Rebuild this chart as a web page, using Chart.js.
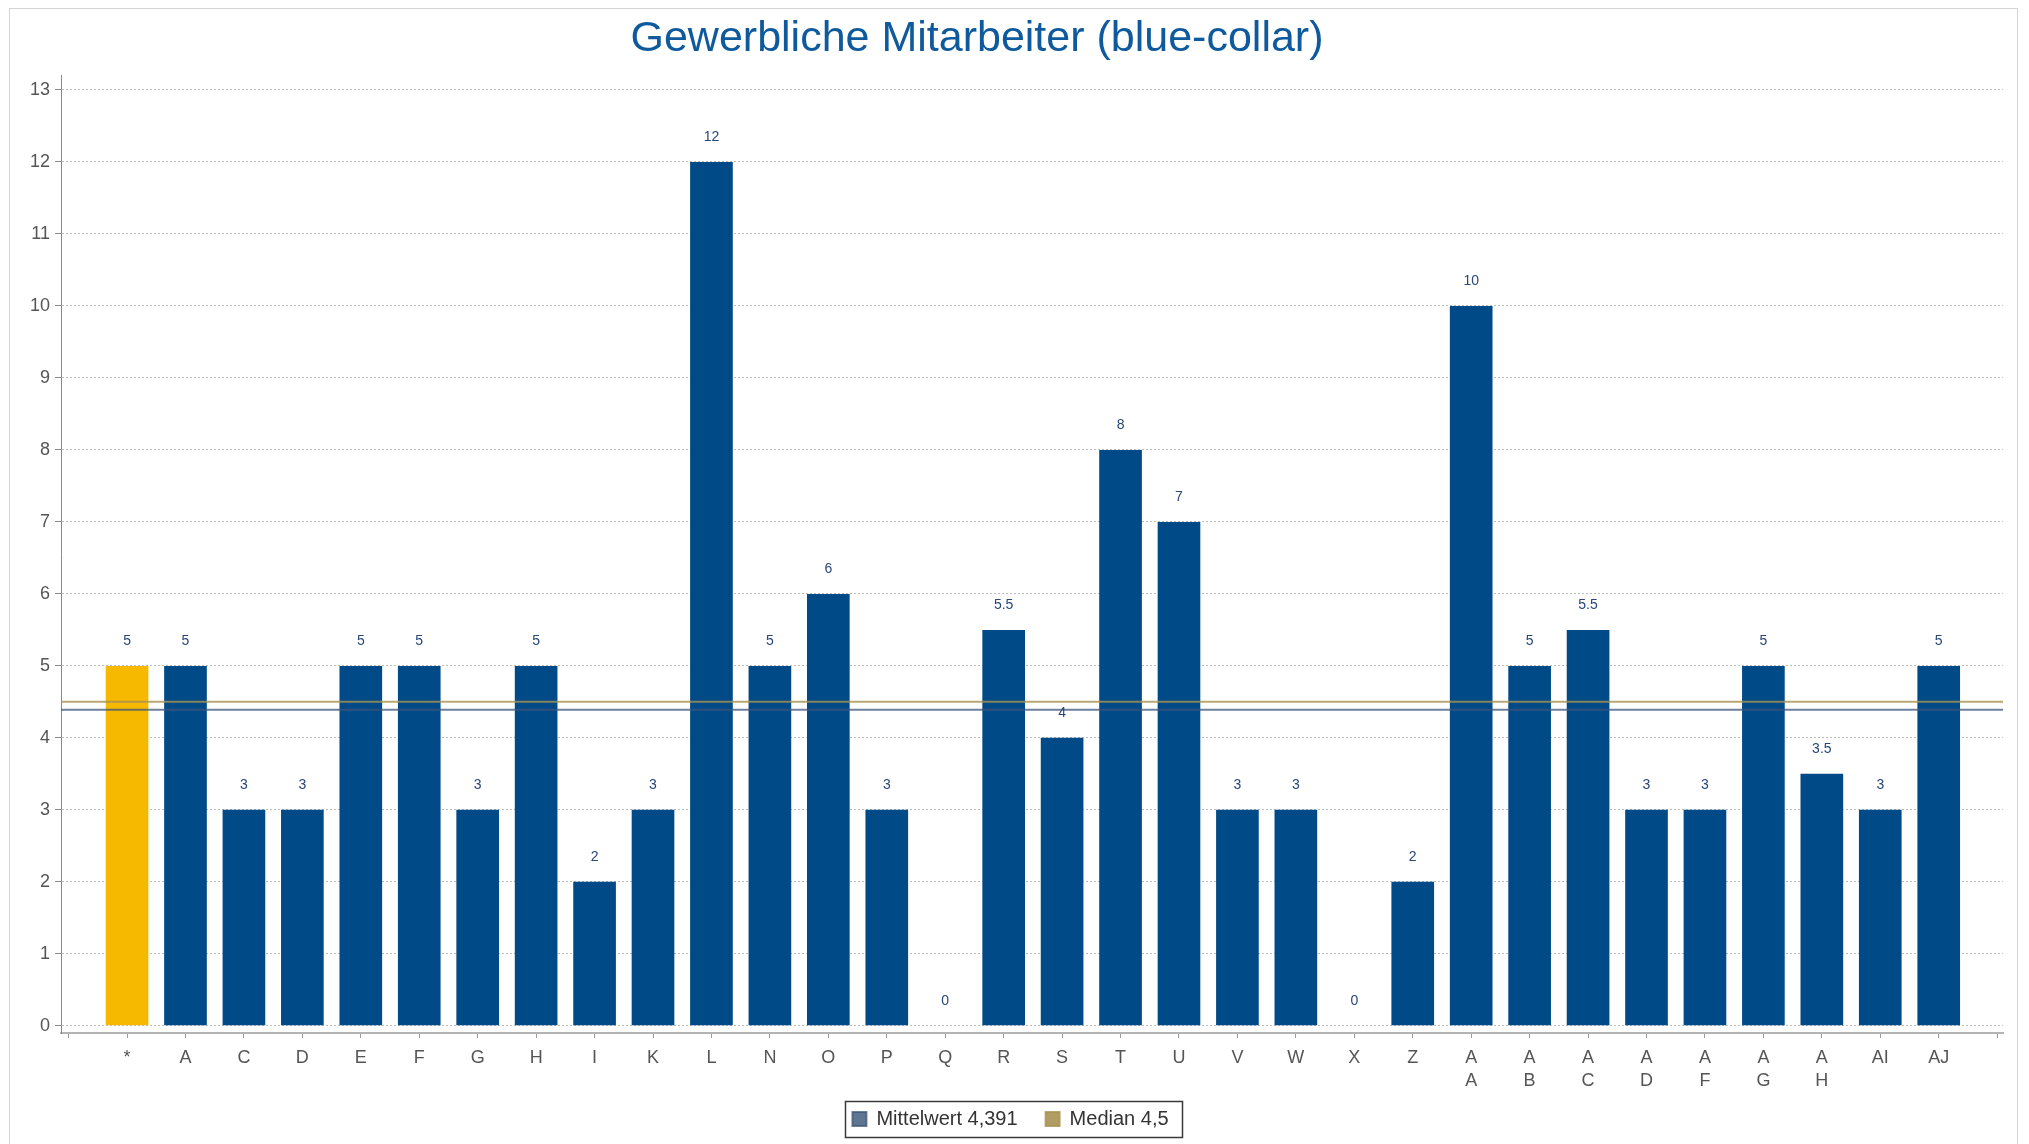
<!DOCTYPE html>
<html>
<head>
<meta charset="utf-8">
<script src="https://cdn.jsdelivr.net/npm/chart.js@4/dist/chart.umd.min.js"></script>
<style>
  html, body { margin: 0; padding: 0; background: #ffffff; }
  #frame { position: absolute; left: 9px; top: 8px; width: 2009px; height: 1160px; border: 1px solid #d4d4d4; box-sizing: border-box; }
  #wrap { position: absolute; left: 0; top: 0; width: 2029px; height: 1144px; }
</style>
</head>
<body>
<div id="frame"></div>
<div id="wrap"><canvas id="c" width="2029" height="1144"></canvas></div>
<script>
const TITLE = 'Gewerbliche Mitarbeiter (blue-collar)';
const CATEGORIES = ['*','A','C','D','E','F','G','H','I','K','L','N','O','P','Q','R','S','T','U','V','W','X','Z','AA','AB','AC','AD','AF','AG','AH','AI','AJ'];
const TICK_LABELS = ['*','A','C','D','E','F','G','H','I','K','L','N','O','P','Q','R','S','T','U','V','W','X','Z',
  ['A','A'],['A','B'],['A','C'],['A','D'],['A','F'],['A','G'],['A','H'],'AI','AJ'];
const VALUES = [5,5,3,3,5,5,3,5,2,3,12,5,6,3,0,5.5,4,8,7,3,3,0,2,10,5,5.5,3,3,5,3.5,3,5];
const MEAN = 4.391;
const MEDIAN = 4.5;
const MEAN_LABEL = 'Mittelwert 4,391';
const MEDIAN_LABEL = 'Median 4,5';
const Y_TICKS_MAX = 13;

const X_MIN = -1.13, X_MAX = 32.1;
const Y_MIN = -0.1, Y_MAX = 13.2;
const FONT = 'Liberation Sans, Arial, sans-serif';
const BAR_COLOR = '#004a87';
const HIGHLIGHT_COLOR = '#f6b900';

const valueLabels = {
  id: 'valueLabels',
  afterDatasetsDraw(chart) {
    const meta = chart.getDatasetMeta(0);
    const ctx = chart.ctx;
    ctx.save();
    ctx.font = '14px ' + FONT;
    ctx.fillStyle = '#27467a';
    ctx.textAlign = 'center';
    ctx.textBaseline = 'middle';
    meta.data.forEach((el, i) => {
      ctx.fillText(String(VALUES[i]), el.x, el.y - 25);
    });
    ctx.restore();
  }
};

const legendFrame = {
  id: 'legendFrame',
  afterLayout(chart) {
    const t = chart.titleBlock;
    if (t) { t.left = 0; t.right = 1954; }
    const l = chart.legend;
    if (l) { l.left += 9; l.right += 9; l.top -= 10; l.bottom -= 10; }
  },
  afterDraw(chart) {
    const hb = chart.legend && chart.legend.legendHitBoxes;
    if (!hb || !hb.length) return;
    let left = Infinity, right = -Infinity, top = Infinity, bottom = -Infinity;
    hb.forEach(b => {
      left = Math.min(left, b.left); right = Math.max(right, b.left + b.width);
      top = Math.min(top, b.top); bottom = Math.max(bottom, b.top + b.height);
    });
    const ctx = chart.ctx;
    ctx.save();
    ctx.strokeStyle = '#3a3a3a';
    ctx.lineWidth = 1.5;
    ctx.strokeRect(Math.round(left - 7) + 0.5, Math.round(top - 8) + 0.5, Math.round(right - left + 21), Math.round(bottom - top + 16));
    ctx.restore();
  }
};

new Chart(document.getElementById('c'), {
  type: 'bar',
  data: {
    datasets: [
      {
        type: 'bar',
        label: 'Werte',
        data: VALUES.map((v, i) => ({ x: i, y: v })),
        backgroundColor: VALUES.map((v, i) => i === 0 ? HIGHLIGHT_COLOR : BAR_COLOR),
        barPercentage: 0.73,
        categoryPercentage: 1.0,
        order: 1
      },
      {
        type: 'line',
        label: MEAN_LABEL,
        data: [{ x: X_MIN, y: MEAN }, { x: X_MAX, y: MEAN }],
        borderColor: 'rgba(62,86,122,0.75)',
        backgroundColor: '#5f7592',
        borderWidth: 2,
        pointRadius: 0,
        order: 0
      },
      {
        type: 'line',
        label: MEDIAN_LABEL,
        data: [{ x: X_MIN, y: MEDIAN }, { x: X_MAX, y: MEDIAN }],
        borderColor: 'rgba(168,146,80,0.8)',
        backgroundColor: '#b19d63',
        borderWidth: 2,
        pointRadius: 0,
        order: 0
      }
    ]
  },
  options: {
    responsive: false,
    animation: false,
    devicePixelRatio: 1,
    layout: { padding: { top: 0, left: 0, right: 26, bottom: -5 } },
    plugins: {
      title: {
        display: true,
        text: TITLE,
        color: '#0e5a9c',
        font: { family: FONT, size: 43, weight: 'normal', lineHeight: 1.2 },
        padding: { top: 13, bottom: 11 }
      },
      legend: {
        display: true,
        position: 'bottom',
        labels: {
          filter: (item) => item.datasetIndex > 0,
          boxWidth: 14,
          boxHeight: 14,
          padding: 28,
          color: '#333333',
          font: { family: FONT, size: 20 }
        }
      },
      tooltip: { enabled: false }
    },
    scales: {
      x: {
        type: 'linear',
        offset: false,
        min: X_MIN,
        max: X_MAX,
        afterFit: (s) => { s.height = 58; },
        border: { display: true, color: '#b4b4b4', width: 2 },
        grid: { display: true, offset: false, drawOnChartArea: false, drawTicks: true, tickLength: 5, tickColor: '#9a9a9a' },
        ticks: {
          stepSize: 1,
          includeBounds: false,
          autoSkip: false,
          maxRotation: 0,
          padding: 9,
          color: '#555555',
          font: { family: FONT, size: 18, lineHeight: 1.27 },
          callback: (value) => (Number.isInteger(value) && TICK_LABELS[value] !== undefined) ? TICK_LABELS[value] : ''
        }
      },
      y: {
        type: 'linear',
        min: Y_MIN,
        max: Y_MAX,
        afterFit: (s) => { s.width = 61; },
        border: { display: true, color: '#8a8a8a', width: 1, dash: [2, 2] },
        grid: {
          color: '#bdbdbd',
          tickLength: 6,
          tickColor: '#8a8a8a',
          tickBorderDash: [],
          lineWidth: 1
        },
        ticks: {
          stepSize: 1,
          includeBounds: false,
          padding: 5,
          color: '#555555',
          font: { family: FONT, size: 18 },
          callback: (value) => (Number.isInteger(value) && value >= 0 && value <= Y_TICKS_MAX) ? String(value) : ''
        }
      }
    }
  },
  plugins: [valueLabels, legendFrame]
});
</script>
</body>
</html>
